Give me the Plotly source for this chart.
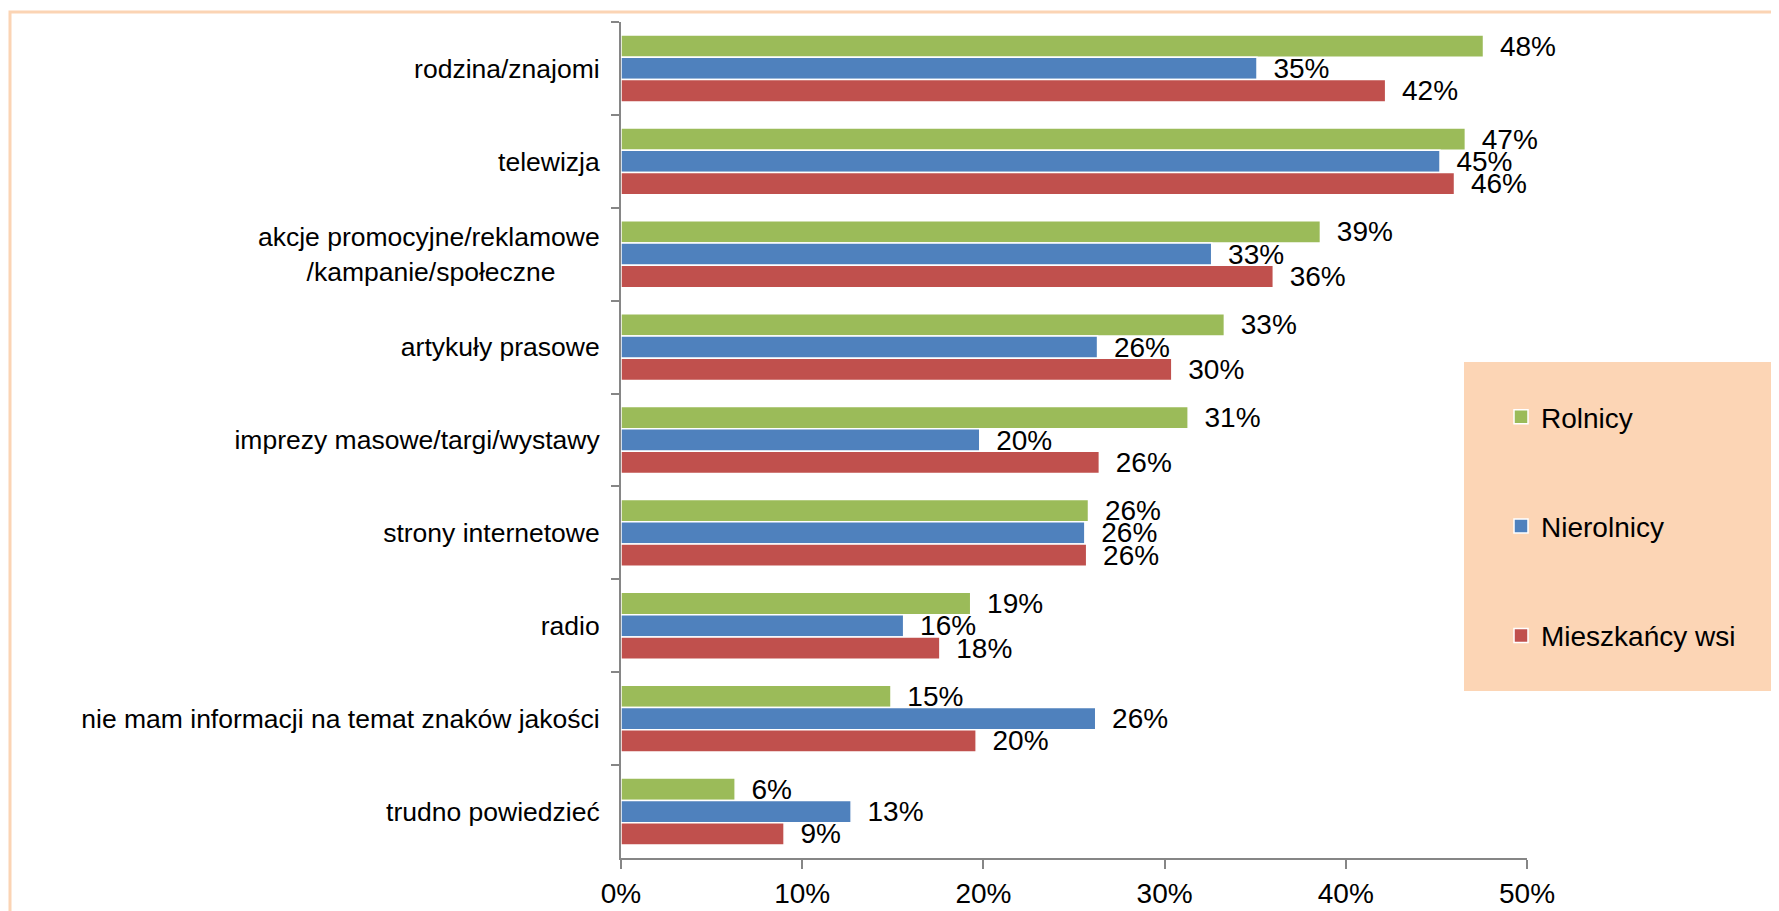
import plotly.graph_objects as go

categories = [
    "rodzina/znajomi",
    "telewizja",
    "akcje promocyjne/reklamowe<br>/kampanie/społeczne\u00a0\u00a0\u00a0\u00a0\u00a0\u00a0",
    "artykuły prasowe",
    "imprezy masowe/targi/wystawy",
    "strony internetowe",
    "radio",
    "nie mam informacji na temat znaków jakości",
    "trudno powiedzieć",
]

rolnicy = [47.6, 46.6, 38.6, 33.3, 31.3, 25.8, 19.3, 14.9, 6.3]
nierolnicy = [35.1, 45.2, 32.6, 26.3, 19.8, 25.6, 15.6, 26.2, 12.7]
mieszkancy = [42.2, 46.0, 36.0, 30.4, 26.4, 25.7, 17.6, 19.6, 9.0]

series_names = ["Rolnicy", "Nierolnicy", "Mieszkańcy wsi"]
series_colors = ["#9BBB59", "#4F81BD", "#C0504D"]

FONT = "Liberation Sans, Arial, sans-serif"

fig = go.Figure()
for name, vals, col in zip(series_names, [rolnicy, nierolnicy, mieszkancy], series_colors):
    fig.add_trace(go.Bar(
        y=categories, x=vals, name=name, orientation="h",
        marker=dict(color=col, line=dict(color="white", width=1.5)),
        texttemplate="\u00a0\u2009%{x:.0f}%", textposition="outside",
        textfont=dict(size=28, color="black", family=FONT),
        constraintext="none", cliponaxis=False,
        legendgroup=name, showlegend=False,
    ))
    # legend-only entry with a larger square swatch
    fig.add_trace(go.Scatter(
        x=[None], y=[None], mode="markers", name=name,
        marker=dict(symbol="square", size=14, color=col,
                    line=dict(color="white", width=1.5)),
        legendgroup=name, showlegend=True, hoverinfo="skip",
    ))

# the page body has an 8px margin, so figure px = screen px - 8
OFF = 8
W, H = 1779 - OFF, 911 - OFF
ml, mr, mt, mb = 621 - OFF, 252, 22 - OFF, 53
pw, ph = W - ml - mr, H - mt - mb

def px(x):
    return (x - OFF - ml) / pw

def py(y):
    return (H - mb - (y - OFF)) / ph

fig.update_layout(
    width=W, height=H, autosize=False,
    margin=dict(l=ml, r=mr, t=mt, b=mb),
    paper_bgcolor="white", plot_bgcolor="white",
    font=dict(family=FONT, color="black"),
    barmode="group", bargap=0.28, bargroupgap=0,
    showlegend=True,
    legend=dict(
        x=px(1501), y=py(392), xanchor="left", yanchor="top",
        bgcolor="rgba(0,0,0,0)", font=dict(size=28, family=FONT),
        traceorder="grouped", tracegroupgap=70,
    ),
    xaxis=dict(
        range=[0, 50], dtick=10, ticksuffix="%",
        showgrid=False, zeroline=False, automargin=False,
        showline=True, linecolor="#868686", linewidth=2,
        ticks="outside", ticklen=9, tickwidth=2, tickcolor="#868686",
        tickfont=dict(size=28, family=FONT),
        fixedrange=True,
    ),
    yaxis=dict(
        autorange="reversed", showgrid=False, automargin=False,
        showline=True, linecolor="#868686", linewidth=2,
        ticks="outside", ticklen=8, tickwidth=2, tickcolor="#868686",
        tickson="boundaries", ticklabelstandoff=14,
        tickfont=dict(size=26.5, family=FONT),
        fixedrange=True,
    ),
    shapes=[
        # outer chart frame (cropped on right/bottom)
        dict(type="rect", xref="paper", yref="paper",
             x0=px(10), x1=px(1800), y0=py(940), y1=py(12),
             line=dict(color="#FBD4B4", width=3), fillcolor="rgba(0,0,0,0)",
             layer="below"),
        # legend background box
        dict(type="rect", xref="paper", yref="paper",
             x0=px(1464), x1=px(1790), y0=py(691), y1=py(362),
             line=dict(width=0), fillcolor="#FCD5B5", layer="below"),
    ],
)

fig.write_html("out.html")
